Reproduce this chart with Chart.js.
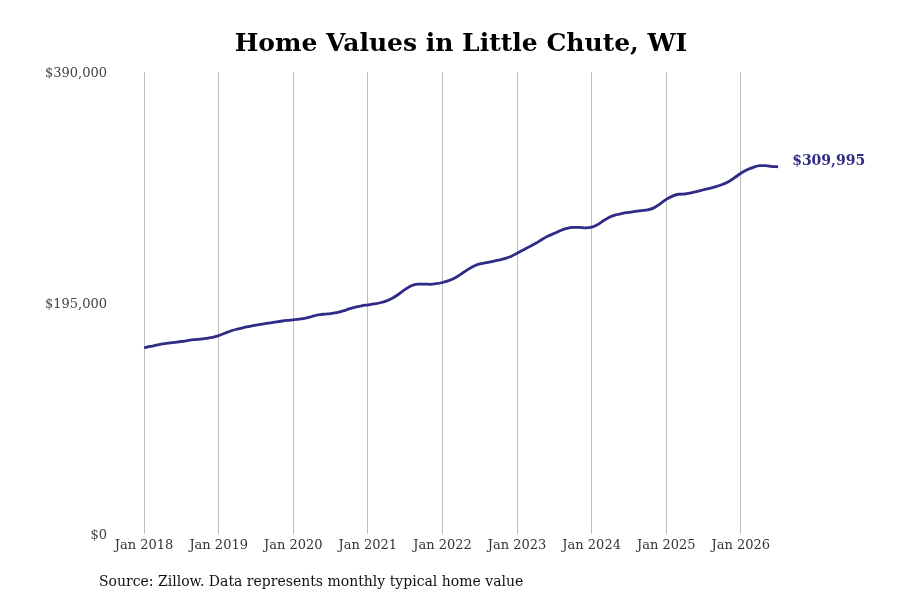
<!DOCTYPE html>
<html>
<head>
<meta charset="utf-8">
<script src="https://cdn.jsdelivr.net/npm/chart.js@4/dist/chart.umd.min.js"></script>
<style>
  html, body { margin: 0; padding: 0; background: #fff; }
  #wrap { width: 900px; height: 600px; }
</style>
</head>
<body>
<div id="wrap"><canvas id="line-chart"></canvas></div>
<script>
'use strict'

// monthly typical home value, Jan 2018 .. Jul 2026
var homeValues = [
  157300, 158300, 159500, 160500, 161200, 161800, 162500, 163300, 164000, 164500, 165200, 166000, // 2018
  167500, 169500, 171500, 173000, 174300, 175300, 176300, 177200, 178000, 178800, 179600, 180300, // 2019
  180800, 181400, 182300, 183600, 184900, 185600, 186100, 186800, 188300, 190000, 191600, 192600, // 2020
  193400, 194200, 195200, 196800, 199200, 202600, 206500, 209600, 210900, 211000, 210800, 211300, // 2021
  212300, 213900, 216100, 219400, 223000, 226000, 228000, 229000, 230000, 231200, 232500, 234200, // 2022
  237000, 239800, 242600, 245400, 248600, 251500, 253800, 256200, 258000, 258800, 258800, 258500, // 2023
  259000, 261300, 264800, 267800, 269500, 270700, 271500, 272300, 273000, 273600, 275300, 278700, // 2024
  282500, 285200, 286800, 287000, 288000, 289300, 290600, 291800, 293200, 295000, 297400, 300800, // 2025
  304500, 307500, 309500, 310900, 311000, 310200, 309995                                          // 2026
]
var tickLabels = ['Jan 2018', 'Jan 2019', 'Jan 2020', 'Jan 2021', 'Jan 2022', 'Jan 2023', 'Jan 2024', 'Jan 2025', 'Jan 2026']
var yTicks = [0, 195000, 390000]

var lineColor = '#2f2b87'
var serif = '"DejaVu Serif", serif'

function money(v) {
  return '$' + Math.round(v).toLocaleString('en-US')
}

// title, source note and end label
var textPlugin = {
  id: 'texts',
  afterDraw: function (chart) {
    var ctx = chart.ctx
    ctx.save()
    ctx.fillStyle = '#000'
    ctx.font = 'bold 25px ' + serif
    ctx.textAlign = 'center'
    ctx.textBaseline = 'middle'
    ctx.fillText('Home Values in Little Chute, WI', 461, 44)

    ctx.font = '14px ' + serif
    ctx.textAlign = 'left'
    ctx.fillStyle = '#111'
    ctx.fillText('Source: Zillow. Data represents monthly typical home value', 99, 582)

    var meta = chart.getDatasetMeta(0)
    var last = meta.data[meta.data.length - 1]
    ctx.font = 'bold 14px ' + serif
    ctx.fillStyle = lineColor
    ctx.fillText(money(homeValues[homeValues.length - 1]), last.x + 14, last.y - 5)
    ctx.restore()
  }
}

var points = homeValues.map(function (v, i) { return { x: i, y: v } })

var chart = new Chart(document.getElementById('line-chart'), {
  type: 'line',
  data: {
    datasets: [{
      data: points,
      borderColor: lineColor,
      borderWidth: 2.8,
      pointRadius: 0,
      tension: 0.4,
      cubicInterpolationMode: 'monotone',
      fill: false
    }]
  },
  options: {
    responsive: true,
    maintainAspectRatio: false,
    animation: false,
    layout: { padding: { top: 72, right: 97, bottom: 42, left: 0 } },
    plugins: {
      legend: { display: false },
      tooltip: { enabled: false }
    },
    scales: {
      x: {
        type: 'linear',
        min: -5,
        max: 106,
        afterBuildTicks: function (axis) {
          axis.ticks = tickLabels.map(function (_, i) { return { value: i * 12 } })
        },
        afterFit: function (axis) { axis.height = 24 },
        grid: { color: '#bdbdbd', lineWidth: 1, drawTicks: false },
        border: { display: false },
        ticks: {
          padding: 4,
          maxRotation: 0,
          autoSkip: false,
          color: '#333',
          font: { family: serif, size: 13 },
          callback: function (value) { return tickLabels[Math.round(value / 12)] }
        }
      },
      y: {
        min: 0,
        max: 390000,
        afterBuildTicks: function (axis) {
          axis.ticks = yTicks.map(function (v) { return { value: v } })
        },
        afterFit: function (axis) { axis.width = 113 },
        grid: { display: false, drawTicks: false },
        border: { display: false },
        ticks: {
          padding: 6,
          labelOffset: 2,
          color: '#444',
          font: { family: serif, size: 13 },
          callback: function (value) { return money(value) }
        }
      }
    }
  },
  plugins: [textPlugin]
})
</script>
</body>
</html>
